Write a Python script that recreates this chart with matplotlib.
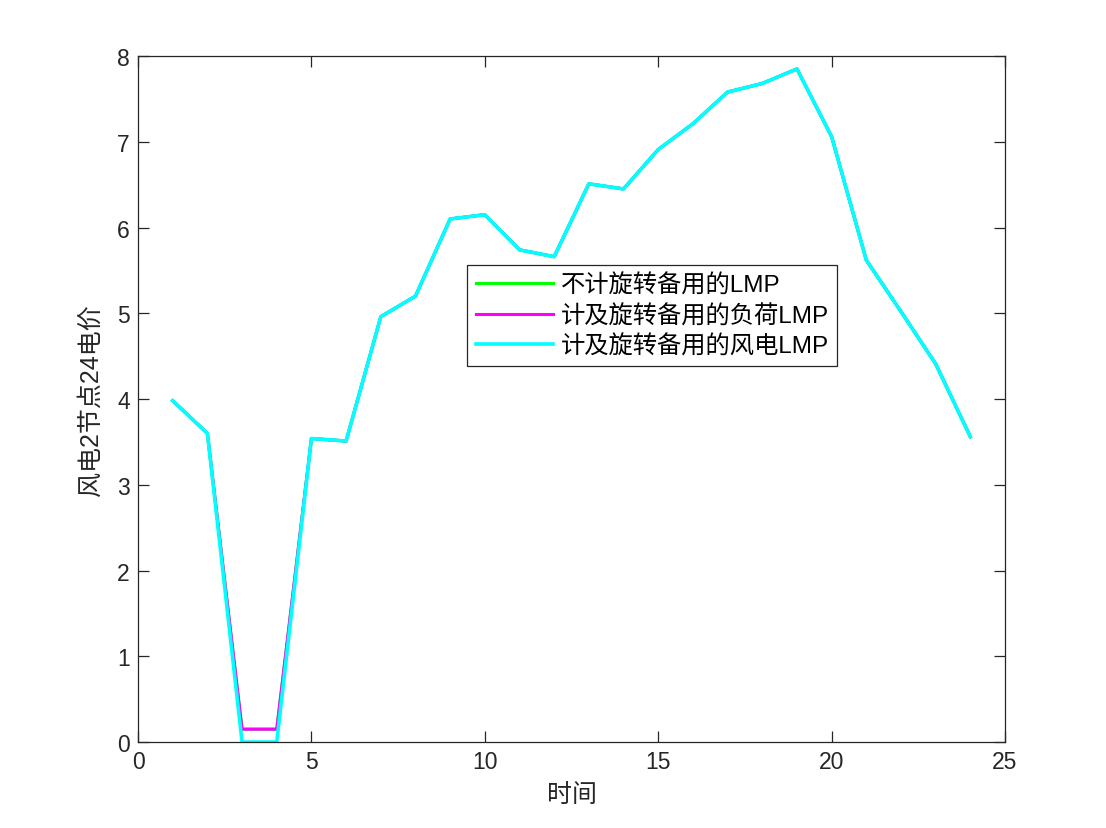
import matplotlib
matplotlib.use("Agg")
import matplotlib.pyplot as plt

plt.rcParams['font.family'] = ['Liberation Sans', 'Noto Sans CJK SC', 'DejaVu Sans']

hours = list(range(1, 25))
lmp_no_reserve = [3.98, 3.60, 0.15, 0.15, 3.54, 3.51, 4.96, 5.20, 6.10, 6.15, 5.74, 5.66,
                  6.51, 6.45, 6.91, 7.21, 7.58, 7.68, 7.85, 7.06, 5.62, 5.02, 4.41, 3.56]
lmp_load = [3.98, 3.60, 0.15, 0.15, 3.54, 3.51, 4.96, 5.20, 6.10, 6.15, 5.74, 5.66,
            6.51, 6.45, 6.91, 7.21, 7.58, 7.68, 7.85, 7.06, 5.62, 5.02, 4.41, 3.56]
lmp_wind = [3.98, 3.60, 0.00, 0.00, 3.54, 3.51, 4.96, 5.20, 6.10, 6.15, 5.74, 5.66,
            6.51, 6.45, 6.91, 7.21, 7.58, 7.68, 7.85, 7.06, 5.62, 5.02, 4.41, 3.56]
labels = ['不计旋转备用的LMP', '计及旋转备用的负荷LMP', '计及旋转备用的风电LMP']
xticks = [0, 5, 10, 15, 20, 25]
yticks = [0, 1, 2, 3, 4, 5, 6, 7, 8]

fig = plt.figure(figsize=(11.06, 8.29), dpi=100)
ax = fig.add_axes([0.1248, 0.1037, 0.7839, 0.8275])

ax.plot(hours, lmp_no_reserve, color='#00FF00', lw=2.2, label=labels[0])
ax.plot(hours, lmp_load, color='#FF00FF', lw=2.2, label=labels[1])
ax.plot(hours, lmp_wind, color='#00FFFF', lw=2.6, label=labels[2])

ax.set_xlim(0, 25)
ax.set_ylim(0, 8)
ax.set_xticks(xticks)
ax.set_yticks(yticks)

axc = '#262626'
for s in ax.spines.values():
    s.set_color(axc)
    s.set_linewidth(0.9)
ax.tick_params(direction='in', length=8, width=0.9, colors=axc, labelsize=16.5,
               top=True, right=True, pad=6)
ax.set_xlabel('时间', fontsize=18, color=axc, labelpad=6)
ax.set_ylabel('风电2节点24电价', fontsize=18, color=axc, labelpad=10)

leg = ax.legend(loc='upper left', bbox_to_anchor=(0.3795, 0.695), fontsize=17.5,
                frameon=True, fancybox=False, framealpha=1, edgecolor='#262626',
                handlelength=3.2, handletextpad=0.3, labelspacing=0.3,
                borderpad=0.35, borderaxespad=0)
leg.get_frame().set_linewidth(0.9)

fig.savefig('out.png', dpi=100)
